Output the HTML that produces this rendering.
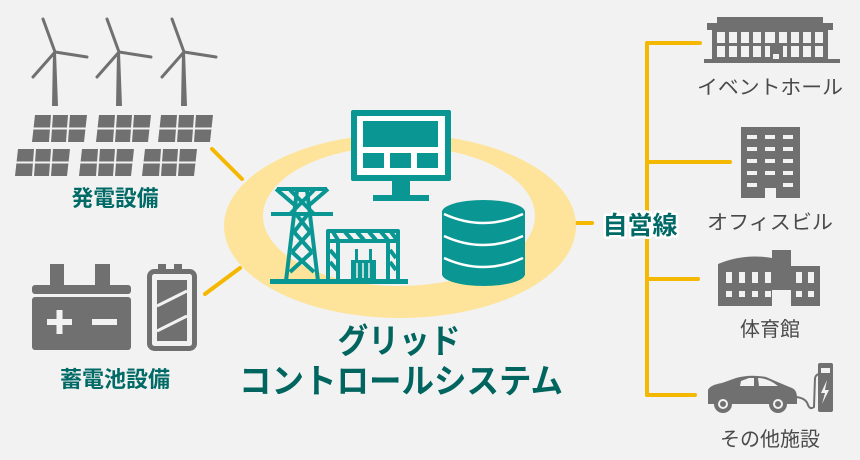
<!DOCTYPE html>
<html><head><meta charset="utf-8"><style>
html,body{margin:0;padding:0;background:#f2f2f2;}
svg{display:block}
.jp{font-family:"Liberation Sans","Noto Sans CJK JP",sans-serif;}
</style></head><body>
<svg width="860" height="460" viewBox="0 0 860 460" xmlns="http://www.w3.org/2000/svg" class="jp">
<rect width="860" height="460" fill="#f2f2f2"/>
<g stroke="#f5b800" stroke-width="4" stroke-linecap="round" fill="none">
<line x1="212" y1="149" x2="242" y2="179"/>
<line x1="205" y1="294" x2="240" y2="268"/>
<line x1="576" y1="223" x2="592" y2="223"/>
<line x1="647" y1="43" x2="647" y2="395"/>
<line x1="647" y1="43" x2="700" y2="43"/>
<line x1="647" y1="162" x2="730" y2="162"/>
<line x1="647" y1="279" x2="698" y2="279"/>
<line x1="647" y1="395" x2="695" y2="395"/>
</g>
<ellipse cx="400" cy="226" rx="176" ry="92" fill="#fde49a"/>
<ellipse cx="399" cy="216" rx="136" ry="70" fill="#f2f2f2"/>
<rect x="351" y="110" width="100" height="71" rx="2" fill="#0a9794"/>
<rect x="357" y="116" width="88" height="59" fill="#fff"/>
<rect x="363" y="121" width="75" height="26" fill="#0a9794"/>
<rect x="363" y="153" width="21" height="15" fill="#0a9794"/>
<rect x="390" y="153" width="21" height="15" fill="#0a9794"/>
<rect x="417" y="153" width="21" height="15" fill="#0a9794"/>
<rect x="392" y="180" width="18" height="16" fill="#0a9794"/>
<rect x="373" y="195" width="56" height="6" fill="#0a9794"/>
<g fill="#0a9794">
<rect x="442" y="211" width="83" height="64"/>
<ellipse cx="483.5" cy="212" rx="41.5" ry="12"/>
<ellipse cx="483.5" cy="274" rx="41.5" ry="12"/>
</g>
<g stroke="#fff" stroke-width="2.5" fill="none">
<path d="M444 214 Q483 232 523 214"/>
<path d="M444 236 Q483 254 523 236"/>
<path d="M444 258 Q483 276 523 258"/>
</g>
<g stroke="#0a9794" stroke-width="4" fill="none" stroke-linejoin="round">
<path d="M286 281 L297 190 L307 190 L318 281"/>
<path d="M277 189 H327 M271 214 H333 M290 190 L314 214 M314 190 L290 214 M276 189 L297 207 M328 189 L307 207"/>
<path d="M296 214 L310 232 M308 214 L294 232 M294 232 L312 252 M310 232 L292 252 M292 252 L314 272 M312 252 L290 272"/>
<rect x="328" y="231" width="70" height="50"/>
<path d="M328 241 H398 M338 241 V281 M388 241 V281"/>
<path d="M333 232 L338 240 M345 232 L352 240 M357 232 L364 240 M369 232 L376 240 M381 232 L388 240 M391 232 L397 240"/>
<path d="M330 250 L337 258 M330 262 L337 270 M390 250 L396 258 M390 262 L396 270"/>
</g>
<rect x="270" y="279" width="138" height="5" fill="#0a9794"/>
<rect x="351" y="260" width="25" height="20" fill="#0a9794"/>
<g stroke="#f2f2f2" stroke-width="1.5"><line x1="357" y1="263" x2="357" y2="278"/><line x1="363" y1="263" x2="363" y2="278"/><line x1="369" y1="263" x2="369" y2="278"/></g>
<rect x="355" y="249" width="3" height="11" fill="#0a9794"/><rect x="369" y="249" width="3" height="11" fill="#0a9794"/>
<text x="399" y="353" text-anchor="middle" font-size="34" font-weight="bold" fill="#00655f" textLength="123" lengthAdjust="spacingAndGlyphs">グリッド</text>
<text x="401" y="393" text-anchor="middle" font-size="34" font-weight="bold" fill="#00655f" textLength="324" lengthAdjust="spacingAndGlyphs">コントロールシステム</text>
<g fill="#707070" stroke="#707070">
<g id="wt">
<path d="M52 106 L53 52 L56 52 L58 106 Z" stroke="none"/>
<line x1="55" y1="52" x2="43" y2="19" stroke-width="3" stroke-linecap="round"/>
<line x1="55" y1="52" x2="87" y2="57" stroke-width="3" stroke-linecap="round"/>
<line x1="55" y1="52" x2="33" y2="77" stroke-width="3" stroke-linecap="round"/>
</g>
<use href="#wt" x="64"/><use href="#wt" x="129"/>
</g>
<defs>
<g id="pn">
<path d="M3 0 H55 L52 27 H0 Z" fill="#707070"/>
<path d="M20 0 L18 27 M37 0 L35 27 M1.5 13.5 H53.5" stroke="#f2f2f2" stroke-width="2"/>
</g>
</defs>
<use href="#pn" x="32" y="115"/><use href="#pn" x="96" y="115"/><use href="#pn" x="158" y="115"/>
<use href="#pn" x="15" y="149"/><use href="#pn" x="79" y="149"/><use href="#pn" x="142" y="149"/>
<text x="115" y="206" text-anchor="middle" font-size="22" font-weight="bold" fill="#006a66" textLength="87" lengthAdjust="spacingAndGlyphs">発電設備</text>
<g fill="#707070">
<rect x="50" y="264" width="14" height="23"/><rect x="95" y="264" width="15" height="23"/>
<rect x="32" y="285" width="99" height="9" rx="3"/>
<rect x="32" y="297" width="99" height="53" rx="3"/>
</g>
<g fill="#f2f2f2"><rect x="47" y="319" width="25" height="6"/><rect x="56.5" y="310" width="6" height="24"/><rect x="92" y="319" width="25" height="6"/></g>
<g>
<rect x="158" y="264" width="8" height="8" fill="#707070"/><rect x="174" y="264" width="8" height="8" fill="#707070"/>
<rect x="149.5" y="271.5" width="45" height="77" rx="5" fill="none" stroke="#707070" stroke-width="5"/>
<rect x="157" y="280" width="30" height="61" fill="#707070"/>
<path d="M157 306 L187 291 M157 331 L187 316" stroke="#f2f2f2" stroke-width="3"/>
</g>
<text x="115" y="387" text-anchor="middle" font-size="22" font-weight="bold" fill="#006a66" textLength="110" lengthAdjust="spacingAndGlyphs">蓄電池設備</text>
<text x="640" y="234" text-anchor="middle" font-size="25" font-weight="bold" fill="#006a66" stroke="#fff" stroke-width="5" paint-order="stroke" stroke-linejoin="round">自営線</text>
<g fill="#707070">
<rect x="717" y="17" width="106" height="6"/>
<rect x="707" y="23" width="126" height="7"/>
<rect x="704" y="59" width="136" height="4"/>
<rect x="712" y="30" width="116" height="29"/>
</g>
<g fill="#f2f2f2">
<rect x="717" y="32" width="8" height="11"/><rect x="729" y="32" width="8" height="11"/><rect x="741" y="32" width="8" height="11"/><rect x="753" y="32" width="8" height="11"/><rect x="765" y="32" width="10" height="11"/><rect x="779" y="32" width="8" height="11"/><rect x="791" y="32" width="8" height="11"/><rect x="803" y="32" width="8" height="11"/><rect x="815" y="32" width="8" height="11"/>
<rect x="717" y="46" width="8" height="11"/><rect x="729" y="46" width="8" height="11"/><rect x="741" y="46" width="8" height="11"/><rect x="753" y="46" width="8" height="11"/><rect x="765" y="46" width="5" height="11"/><rect x="773" y="54" width="6" height="5"/><rect x="783" y="46" width="4" height="11"/><rect x="791" y="46" width="8" height="11"/><rect x="803" y="46" width="8" height="11"/><rect x="815" y="46" width="8" height="11"/>
</g>
<text x="770" y="94" text-anchor="middle" font-size="20" fill="#4a4a4a" textLength="146" lengthAdjust="spacingAndGlyphs">イベントホール</text>
<rect x="741" y="127" width="59" height="71" fill="#707070"/>
<g fill="#f2f2f2">
<rect x="747" y="135" width="10" height="4"/><rect x="765" y="135" width="10" height="4"/><rect x="783" y="135" width="10" height="4"/>
<rect x="747" y="147" width="10" height="4"/><rect x="765" y="147" width="10" height="4"/><rect x="783" y="147" width="10" height="4"/>
<rect x="747" y="159" width="10" height="4"/><rect x="765" y="159" width="10" height="4"/><rect x="783" y="159" width="10" height="4"/>
<rect x="747" y="171" width="10" height="4"/><rect x="765" y="171" width="10" height="4"/><rect x="783" y="171" width="10" height="4"/>
<rect x="747" y="183" width="10" height="4"/><rect x="765" y="188" width="11" height="10"/><rect x="783" y="183" width="10" height="4"/>
</g>
<text x="770" y="229" text-anchor="middle" font-size="20" fill="#4a4a4a" textLength="126" lengthAdjust="spacingAndGlyphs">オフィスビル</text>
<path d="M718 306 V264 Q744 253 772 258 V250 H791 V266 H820 V306 H791 V290 H772 V306 Z" fill="#707070"/>
<g fill="#f2f2f2">
<rect x="726" y="272" width="6" height="11"/><rect x="739" y="272" width="6" height="11"/><rect x="752" y="272" width="6" height="11"/><rect x="765" y="272" width="6" height="11"/><rect x="796" y="272" width="6" height="11"/><rect x="808" y="272" width="6" height="11"/>
<rect x="726" y="291" width="6" height="6"/><rect x="739" y="291" width="6" height="6"/><rect x="752" y="291" width="6" height="6"/><rect x="765" y="291" width="6" height="6"/><rect x="796" y="291" width="6" height="6"/><rect x="808" y="291" width="6" height="6"/>
</g>
<text x="770" y="336" text-anchor="middle" font-size="20" fill="#4a4a4a">体育館</text>
<path d="M708 404 V390 Q710 385 722 383 L736 378 Q750 374 766 377 Q782 384 792 388 Q797 390 797 398 V404 Z" fill="#707070"/>
<path d="M741 381 L749 378 L754 378 L754 386 L740 386 Z M758 378 Q768 378 778 386 L759 386 Z" fill="#f2f2f2"/>
<circle cx="723" cy="404" r="9" fill="#707070"/><circle cx="723" cy="404" r="5" fill="#f2f2f2"/><circle cx="723" cy="404" r="3" fill="#707070"/>
<circle cx="778" cy="404" r="9" fill="#707070"/><circle cx="778" cy="404" r="5" fill="#f2f2f2"/><circle cx="778" cy="404" r="3" fill="#707070"/>
<path d="M796 397 Q806 398 808 405 Q810 410 814 407 L815 378 Q816 374 820 374" stroke="#707070" stroke-width="2" fill="none"/>
<rect x="818" y="363" width="15" height="49" rx="2" fill="#707070"/>
<rect x="821" y="368" width="9" height="5" fill="#f2f2f2"/>
<path d="M827 380 L821 393 L825 393 L822 404 L829 390 L825 390 Z" fill="#f2f2f2"/>
<text x="770" y="446" text-anchor="middle" font-size="20" fill="#4a4a4a">その他施設</text>
</svg>
</body></html>
